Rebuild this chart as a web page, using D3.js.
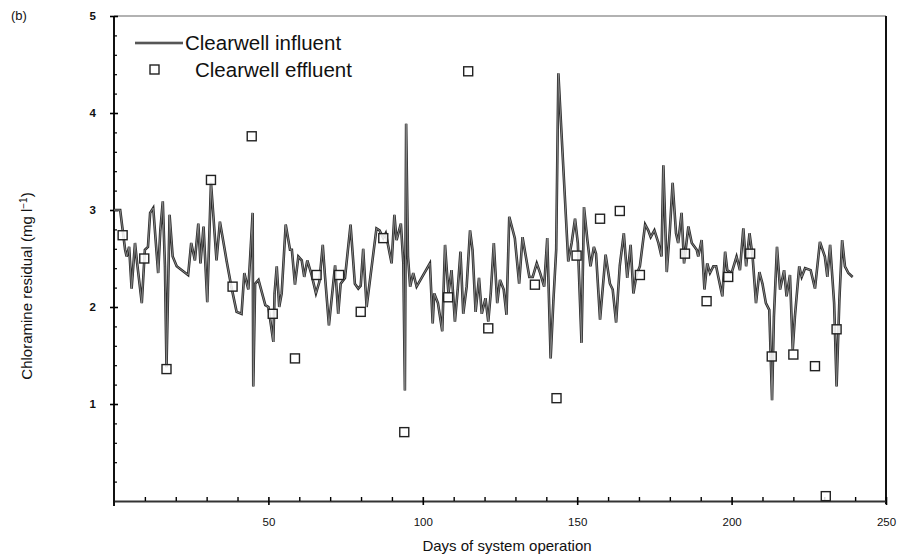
<!DOCTYPE html>
<html>
<head>
<meta charset="utf-8">
<script src="https://cdn.jsdelivr.net/npm/d3@7"></script>
<style>
  body { margin: 0; background: #fff; }
  text { font-family: "Liberation Sans", Arial, sans-serif; fill: #111; }
</style>
</head>
<body>
<div id="chart"></div>
<script>
// influent trace: day / value pairs
var influentDays = [0, 2, 3.6, 4.1, 4.9, 5.7, 6.8, 7.5, 9, 10, 11, 11.7, 12.7, 14.3, 15, 15.8, 16.5, 17, 18, 19, 20.3,
  24, 25, 26.2, 27.3, 28, 29, 30.2, 31.4, 32, 33.2, 34.3, 36.5, 38, 39.7, 41.3, 42.2, 43.5, 44.9, 45.1, 45.7, 46.8,
  49, 50, 51.6, 52, 52.7, 53.5, 54.3, 55.6, 57, 57.6, 58.6, 59.7, 60.8, 61.6, 62.6, 64, 65.4, 66.5, 67.6, 68.3, 69.6,
  71.6, 72.6, 73.4, 74.8, 76.6, 78, 79.1, 79.9, 80.7, 81.8, 85, 86, 87.2, 88, 89.9, 90.8, 91.5, 92.9, 93.7, 94.2, 94.6,
  95.2, 95.9, 96.9, 98, 102.3, 103.2, 103.7, 104.9, 106.3, 107.2, 108.3, 109.3, 110.4, 111.3, 112.2, 113.1, 114.2,
  115.3, 116.1, 117.1, 118.2, 119.1, 120.3, 121.2, 122, 123, 124.1, 125, 126.2, 127.1, 128, 129.8, 131.2, 132.3,
  134.5, 135.6, 136.9, 138, 139.3, 140.3, 141.4, 142.3, 143.2, 143.9, 147.1, 148.2, 149.3, 150.2, 151.4, 152.2,
  153.3, 154.3, 155.4, 156.1, 157.4, 159.2, 160.6, 161.5, 162.6, 163.8, 165.1, 166.2, 167.3, 168.2, 169.2, 170.3,
  172, 173, 173.8, 175, 176.3, 177.3, 177.9, 179, 180, 180.9, 182, 182.7, 183.8, 184.6, 186, 187.1, 188.7, 189.2,
  190.3, 191.2, 192.1, 193, 194.1, 195, 195.7, 197, 197.9, 198.6, 200, 201.6, 202.7, 203.8, 204.7, 205.8, 206.8,
  207.9, 209, 210, 211.1, 212.2, 213.1, 213.7, 214.7, 215.7, 217, 217.8, 218.9, 219.8, 220.5, 221.9, 222.7, 223.8,
  225.6, 227, 228.6, 230.2, 231, 231.9, 233.2, 234, 234.9, 235.8, 236.7, 237.8, 239.2];
var influentValues = [3.0, 3.0, 2.59, 2.52, 2.62, 2.19, 2.66, 2.45, 2.04, 2.59, 2.62, 2.97, 3.02, 2.35, 2.79, 3.09, 2.42, 1.38, 2.95, 2.52, 2.42,
  2.33, 2.66, 2.48, 2.86, 2.45, 2.83, 2.05, 3.28, 3.02, 2.48, 2.88, 2.47, 2.21, 1.95, 1.93, 2.35, 2.18, 2.97, 1.18, 2.24, 2.28,
  2.02, 2.0, 1.64, 2.14, 2.42, 2.0, 2.14, 2.85, 2.59, 2.59, 2.23, 2.52, 2.48, 2.31, 2.48, 2.33, 2.14, 2.26, 2.64, 2.33, 1.81,
  2.43, 1.93, 2.24, 2.30, 2.85, 2.24, 2.19, 2.22, 2.60, 2.0, 2.81, 2.79, 2.71, 2.76, 2.45, 2.95, 2.69, 2.86, 2.45, 1.14, 3.89,
  2.52, 2.21, 2.35, 2.21, 2.45, 1.83, 2.14, 2.04, 1.75, 2.64, 2.14, 2.38, 1.85, 2.18, 2.57, 1.93, 2.21,
  2.79, 2.59, 1.95, 2.30, 1.93, 2.09, 1.85, 2.14, 2.66, 2.04, 2.28, 2.18, 1.92, 2.93, 2.71, 2.24, 2.72,
  2.31, 2.31, 2.45, 2.35, 2.21, 2.71, 1.47, 2.07, 2.59, 4.41, 2.47, 2.66, 2.91, 2.66, 1.63, 3.03,
  2.69, 2.42, 2.62, 2.55, 1.87, 2.54, 2.24, 2.18, 1.84, 2.43, 2.76, 2.30, 2.64, 2.14, 2.33, 2.42,
  2.85, 2.79, 2.72, 2.79, 2.66, 2.52, 3.46, 2.36, 2.79, 3.28, 2.76, 2.66, 2.97, 2.45, 2.83, 2.66, 2.59, 2.52,
  2.69, 2.18, 2.45, 2.35, 2.42, 2.42, 2.31, 2.11, 2.57, 2.38, 2.35, 2.52, 2.38, 2.81, 2.42, 2.76, 2.52,
  2.04, 2.36, 2.24, 2.04, 1.97, 1.04, 1.90, 2.62, 2.18, 2.38, 2.11, 2.33, 1.56, 1.90, 2.42, 2.31, 2.40,
  2.38, 2.19, 2.67, 2.52, 2.31, 2.64, 2.04, 1.18, 2.07, 2.69, 2.42, 2.35, 2.31];

// effluent grab samples
var effluentDays = [2.8, 9.8, 17, 31.4, 38.4, 44.6, 51.4, 58.6, 65.6, 72.9, 79.9, 87.2, 94, 108.2, 114.7, 121.2,
  136.3, 143.3, 149.8, 157.4, 163.8, 170.3, 184.9, 191.9, 198.9, 206, 213, 220, 227, 230.5, 234];
var effluentValues = [2.74, 2.50, 1.36, 3.31, 2.21, 3.76, 1.93, 1.47, 2.33, 2.33, 1.95, 2.71, 0.71, 2.10, 4.43, 1.78,
  2.23, 1.06, 2.53, 2.91, 2.99, 2.33, 2.55, 2.06, 2.31, 2.55, 1.49, 1.51, 1.39, 0.05, 1.77];

var xTickValues = [50, 100, 150, 200, 250];
var yTickValues = [1, 2, 3, 4, 5];
var seriesNames = ["Clearwell influent", "Clearwell effluent"];

(function() {
  var width = 899, height = 556;
  var left = 114, right = 886, top = 16, bottom = 501;

  var influent = influentDays.map(function(d, i) { return { day: d, value: influentValues[i] }; });
  var effluent = effluentDays.map(function(d, i) { return { day: d, value: effluentValues[i] }; });

  var x = d3.scaleLinear().domain([0, 250]).range([left, right]);
  var y = d3.scaleLinear().domain([0, 5]).range([bottom, top]);

  var svg = d3.select("#chart").append("svg").attr("width", width).attr("height", height);

  // frame: top and right
  svg.append("line").attr("x1", left).attr("x2", right).attr("y1", top).attr("y2", top)
    .attr("stroke", "#666").attr("stroke-width", 1.2);
  svg.append("line").attr("x1", right).attr("x2", right).attr("y1", top).attr("y2", bottom + 3)
    .attr("stroke", "#111").attr("stroke-width", 2);

  // x axis: minor ticks inside every 10 days, major ticks cross the line
  var xAxis = svg.append("g").attr("transform", "translate(0," + bottom + ")");
  xAxis.call(d3.axisBottom(x).tickValues(d3.range(10, 250, 10).filter(function(v) { return v % 50; }))
    .tickSizeInner(-4).tickSizeOuter(0).tickFormat(""));
  xAxis.select(".domain").attr("stroke", "#333").attr("stroke-width", 2);
  xAxis.selectAll(".tick line").attr("stroke-width", 1.4);
  var xMajor = svg.append("g").attr("transform", "translate(0," + bottom + ")");
  xMajor.call(d3.axisBottom(x).tickValues(xTickValues).tickSize(4).tickPadding(13).tickFormat(d3.format("d")));
  xMajor.select(".domain").remove();
  xMajor.selectAll(".tick line").attr("y1", -4).attr("stroke-width", 1.6);
  xMajor.selectAll("text").style("font-size", "11.5px").style("font-family", "Liberation Sans, Arial, sans-serif").attr("fill", "#111");

  // y axis: minor ticks every 0.2, major crossing
  var yAxis = svg.append("g").attr("transform", "translate(" + left + ",0)");
  yAxis.call(d3.axisLeft(y).tickValues(d3.range(0.2, 5, 0.2).filter(function(v) { return Math.abs(v - Math.round(v)) > 0.01; }))
    .tickSizeInner(-3).tickSizeOuter(0).tickFormat(""));
  yAxis.select(".domain").attr("stroke", "#111").attr("stroke-width", 2).attr("d", "M0," + (bottom + 5) + "V" + top);
  yAxis.selectAll(".tick line").attr("stroke-width", 1.2);
  var yMajor = svg.append("g").attr("transform", "translate(" + left + ",0)");
  yMajor.call(d3.axisLeft(y).tickValues(yTickValues).tickSize(4).tickPadding(14).tickFormat(d3.format("d")));
  yMajor.select(".domain").remove();
  yMajor.selectAll(".tick line").attr("x2", 4).attr("x1", -4).attr("stroke-width", 1.6);
  yMajor.selectAll("text").style("font-size", "11.5px").style("font-weight", "bold").style("font-family", "Liberation Sans, Arial, sans-serif").attr("fill", "#111");

  // influent line: dark edge with grey core like the print
  var line = d3.line().x(function(d) { return x(d.day); }).y(function(d) { return y(d.value); });
  svg.append("path").datum(influent).attr("d", line).attr("fill", "none")
    .attr("stroke", "#2b2b2b").attr("stroke-width", 2.6).attr("stroke-linejoin", "miter").attr("stroke-miterlimit", 4);
  svg.append("path").datum(influent).attr("d", line).attr("fill", "none")
    .attr("stroke", "#8c8c8c").attr("stroke-width", 0.9);

  // effluent squares
  var s = 9;
  svg.selectAll(".eff").data(effluent).enter().append("rect").attr("class", "eff")
    .attr("x", function(d) { return x(d.day) - s / 2; })
    .attr("y", function(d) { return y(d.value) - s / 2; })
    .attr("width", s).attr("height", s)
    .attr("fill", "#fff").attr("fill-opacity", 0.85).attr("stroke", "#222").attr("stroke-width", 1.4);

  // legend
  svg.append("line").attr("x1", 135).attr("x2", 183).attr("y1", 43).attr("y2", 43)
    .attr("stroke", "#2b2b2b").attr("stroke-width", 2.6);
  svg.append("line").attr("x1", 135).attr("x2", 183).attr("y1", 43).attr("y2", 43)
    .attr("stroke", "#8c8c8c").attr("stroke-width", 0.9);
  svg.append("text").attr("x", 185).attr("y", 50).style("font-size", "20.5px").text(seriesNames[0]);
  svg.append("rect").attr("x", 150).attr("y", 65).attr("width", s).attr("height", s)
    .attr("fill", "#fff").attr("stroke", "#222").attr("stroke-width", 1.4);
  svg.append("text").attr("x", 195).attr("y", 77).style("font-size", "20.5px").text(seriesNames[1]);

  // titles
  svg.append("text").attr("x", 507).attr("y", 551).attr("text-anchor", "middle")
    .style("font-size", "15px").text("Days of system operation");
  var yt = svg.append("text").attr("transform", "translate(32,286) rotate(-90)").attr("text-anchor", "middle")
    .style("font-size", "15px");
  yt.append("tspan").text("Chloramine residual (mg l");
  yt.append("tspan").attr("baseline-shift", "super").style("font-size", "10px").text("\u22121");
  yt.append("tspan").text(")");
  svg.append("text").attr("x", 11).attr("y", 20).style("font-size", "13px").text("(b)");
}).call(this);
</script>
</body>
</html>
